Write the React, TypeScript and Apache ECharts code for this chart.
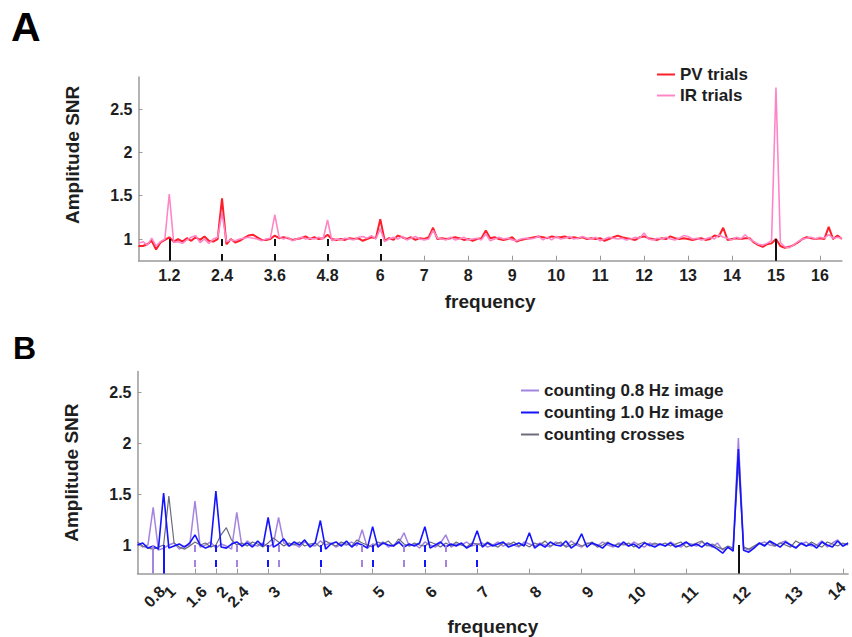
import React, { useEffect, useRef } from "react";
import * as echarts from "echarts";

const FONT = "'Liberation Sans', Arial, Helvetica, sans-serif";

// ---------- Panel A data (frequency grid 0.5 .. 16.5 Hz, step 0.1) ----------
const freqStartA = 0.5;
const freqStepA = 0.1;
const pvTrials = [
  0.92, 0.92, 0.94, 0.98, 0.88, 0.96, 0.99, 1.02, 0.97, 1.0,
  0.97, 1.01, 0.98, 1.02, 0.99, 1.03, 0.98, 0.97, 1.0, 1.47,
  0.94, 1.0, 0.96, 0.98, 1.01, 1.04, 1.05, 1.02, 0.99, 0.99,
  1.0, 1.04, 1.01, 1.02, 1.01, 0.99, 1.0, 1.01, 1.03, 1.0,
  1.02, 1.0, 1.01, 1.05, 1.0, 0.99, 1.0, 0.99, 1.01, 1.0,
  1.01, 0.98, 1.0, 1.02, 1.01, 1.23, 0.98, 1.01, 0.99, 1.04,
  1.02, 1.0, 1.02, 0.99, 1.01, 1.0, 1.02, 1.13, 1.0, 1.01,
  1.0, 1.01, 1.02, 1.01, 0.99, 1.0, 0.98, 1.0, 1.01, 1.1,
  1.01, 1.02, 1.0, 0.99, 1.0, 1.02, 0.97, 0.99, 1.0, 1.01,
  1.02, 1.03, 1.02, 1.01, 1.03, 1.02, 1.02, 1.03, 1.01, 1.02,
  1.01, 1.02, 1.0, 1.01, 1.0, 1.01, 0.98, 1.0, 1.02, 1.04,
  1.02, 1.01, 1.0, 0.99, 1.02, 1.03, 1.01, 1.0, 0.99, 1.01,
  1.0, 1.03, 1.01, 1.0, 1.01, 1.0, 0.99, 1.0, 1.01, 0.99,
  1.0, 1.04, 1.03, 1.13, 0.99, 1.0, 1.01, 1.0, 1.01, 1.01,
  0.96, 0.93, 0.91, 0.94, 0.95, 1.0, 0.92, 0.9, 0.91, 0.93,
  0.96, 1.0, 1.02, 1.01, 1.0, 1.01, 1.0, 1.14, 1.0, 1.04, 1.0,
];
const irTrials = [
  0.95, 0.97, 0.93, 1.01, 0.92, 0.97, 1.0, 1.52, 0.96, 0.97,
  0.95, 0.99, 1.02, 1.04, 0.96, 1.0, 0.95, 1.0, 1.02, 1.3,
  0.97, 0.99, 0.98, 1.0, 1.01, 1.02, 1.01, 1.0, 0.98, 1.0,
  1.01, 1.28, 1.02, 1.0, 1.02, 0.98, 1.0, 1.02, 1.0, 1.01,
  1.0, 1.02, 1.0, 1.22, 0.98, 1.0, 0.99, 1.01, 1.0, 0.99,
  1.02, 1.03, 1.01, 1.04, 1.0, 1.12, 0.97, 1.0, 1.02, 1.0,
  1.03, 0.99, 1.01, 1.03, 1.0, 0.99, 1.0, 1.1, 1.01, 1.0,
  0.99, 1.02, 0.99, 1.0, 1.02, 0.99, 1.0, 1.01, 0.99, 1.06,
  0.98, 1.0, 1.02, 1.0, 1.01, 0.99, 0.98, 1.0, 1.01, 1.0,
  1.01, 1.03, 0.99, 1.02, 0.99, 1.03, 1.0, 1.01, 1.03, 1.0,
  1.01, 1.03, 1.01, 1.0, 1.02, 0.98, 1.0, 1.02, 1.01, 1.0,
  1.01, 0.99, 1.0, 1.02, 1.01, 1.07, 1.0, 0.99, 1.01, 1.0,
  1.02, 1.0, 0.99, 1.01, 1.04, 1.03, 1.0, 1.01, 0.99, 1.0,
  1.02, 1.0, 1.05, 1.02, 1.01, 0.99, 1.02, 1.0, 1.05, 1.0,
  0.97, 0.94, 0.93, 0.95, 0.98, 2.75, 0.96, 0.91, 0.9, 0.93,
  0.97, 1.0, 1.01, 1.02, 1.0, 1.02, 1.01, 1.05, 1.01, 1.02, 1.01,
];
const xLabelsA = [1.2, 2.4, 3.6, 4.8, 6, 7, 8, 9, 10, 11, 12, 13, 14, 15, 16];
const yLabelsA = [1, 1.5, 2, 2.5];
const markersSolidA = [1.2, 15];
const markersDashedA = [2.4, 3.6, 4.8, 6];

// ---------- Panel B data (frequency grid 0.5 .. 14.1 Hz, step 0.1) ----------
const freqStartB = 0.5;
const freqStepB = 0.1;
const counting08 = [
  1.02, 0.98, 1.0, 1.37, 0.95, 0.97, 1.0, 1.02, 0.96, 0.99,
  1.0, 1.43, 0.98, 1.0, 1.03, 0.97, 1.01, 0.99, 0.96, 1.32,
  0.98, 1.04, 1.0, 0.99, 1.02, 0.98, 1.01, 1.27, 1.02, 0.99,
  1.01, 0.98, 1.03, 1.0, 0.99, 1.04, 1.0, 1.02, 0.98, 1.01,
  1.0, 1.03, 0.99, 1.15, 0.97, 1.01, 1.0, 1.03, 0.98, 1.0,
  1.02, 1.12, 0.99, 1.01, 0.97, 1.03, 1.0, 0.98, 1.02, 1.1,
  0.98, 1.01, 1.0, 1.03, 0.99, 1.01, 1.02, 0.98, 1.0, 1.03,
  0.99, 1.02, 1.0, 0.98, 1.03, 1.01, 0.99, 1.02, 1.0, 0.98,
  1.03, 1.01, 0.99, 1.04, 1.0, 0.98, 1.02, 1.01, 0.99, 1.03,
  1.0, 0.98, 1.02, 1.01, 0.99, 1.03, 1.0, 0.98, 1.02, 1.0,
  1.01, 0.99, 1.03, 1.0, 0.98, 1.02, 1.01, 0.99, 1.03, 1.0,
  0.98, 1.02, 0.95, 0.97, 0.96, 2.05, 0.97, 0.95, 0.98, 1.01,
  1.03, 1.0, 0.99, 1.02, 1.04, 1.0, 0.98, 1.01, 1.03, 0.99,
  1.0, 1.04, 0.98, 1.02, 1.05, 0.99, 1.01,
];
const counting10 = [
  1.0, 1.02, 0.97, 0.99, 0.96, 1.51, 0.97, 0.99, 1.01, 0.98,
  1.02, 1.1, 1.0, 0.97, 0.99, 1.53, 0.98, 0.97, 1.01, 1.03,
  0.99, 1.02, 0.98, 1.04, 0.99, 1.27, 0.98, 1.01, 1.06, 0.99,
  1.03, 1.0, 1.05, 0.98, 1.02, 1.24, 0.96, 1.01, 1.03, 0.99,
  1.04, 0.98, 1.02, 1.0, 0.97, 1.18, 0.98, 1.02, 1.0, 0.99,
  1.03, 0.98, 1.01, 0.99, 1.02, 1.18, 0.97, 1.0, 1.03, 0.98,
  1.01, 0.99, 1.02, 0.97, 1.0, 1.14, 0.98, 1.02, 0.99, 1.01,
  1.03, 0.98, 1.0, 1.02, 0.99, 1.12, 0.97, 1.01, 0.98, 1.03,
  1.0, 0.99, 1.04, 0.97, 1.01, 1.11, 0.98, 1.02, 1.0, 0.97,
  1.02, 1.0, 0.98, 1.03, 0.99, 1.01, 0.97, 1.02, 1.0, 0.98,
  1.01, 0.99, 1.02, 0.98, 1.0, 1.03, 0.99, 1.01, 0.98, 1.02,
  0.99, 0.96, 0.92, 0.98, 0.94, 1.94, 0.95, 0.93, 0.97, 1.02,
  0.99, 1.04, 1.01, 0.98, 1.03, 1.0, 0.97, 1.02, 0.99, 1.01,
  0.97, 1.03, 1.0, 0.98, 1.04, 0.99, 1.02,
];
const countingCrosses = [
  1.03, 0.99, 0.97, 0.96, 0.98, 1.0, 1.48, 1.02, 0.98, 0.96,
  0.99, 1.03, 1.0, 1.02, 0.98, 1.0, 1.1, 1.17, 1.05, 1.0,
  1.02, 0.99, 1.03, 1.01, 0.98, 1.02, 1.07, 1.03, 0.99, 1.02,
  1.0, 1.03, 0.99, 1.01, 1.02, 0.98, 1.04, 1.01, 0.99, 1.03,
  1.01, 0.99, 1.05, 1.02, 1.0, 0.98, 1.03, 1.01, 1.04, 0.99,
  1.06, 1.01, 0.99, 1.02, 1.0, 0.99, 1.03, 1.01, 0.98, 1.02,
  0.99, 1.03, 1.0, 0.98, 1.02, 1.01, 0.99, 1.03, 1.0, 0.98,
  1.02, 1.0, 1.03, 0.99, 1.01, 0.98, 1.02, 1.0, 1.04, 0.99,
  1.01, 1.03, 0.98, 1.0, 1.02, 0.99, 1.01, 1.03, 0.98, 1.0,
  1.03, 0.99, 1.01, 1.0, 1.02, 0.98, 1.01, 1.03, 0.99, 1.02,
  1.0, 1.02, 0.99, 1.01, 1.03, 0.98, 1.0, 1.02, 1.04, 0.99,
  1.01, 0.98, 0.96, 0.99, 0.97, 1.8, 0.98, 0.96, 0.99, 1.02,
  1.0, 1.03, 0.99, 1.02, 1.0, 0.98, 1.04, 1.01, 0.99, 1.03,
  1.0, 0.98, 1.03, 1.01, 0.99, 1.02, 1.0,
];
// tick labels of panel B ("1" and "14" sit on overlay axes so they are neither culled nor clipped)
const xLabelsB = [0.8, 1.6, 2, 2.4, 3, 4, 5, 6, 7, 8, 9, 10, 11, 12, 13];
const xLabelsBOverlay = [1];
const xLabelsBEnd = [14];
const xTicksB = [0.8, 1, 1.6, 2, 2.4, 3, 4, 5, 6, 7, 8, 9, 10, 11, 12, 13, 14];
const yLabelsB = [1, 1.5, 2, 2.5];
const markersPurpleSolidB = [0.8];
const markersBlueSolidB = [1];
const markersPurpleDashedB = [1.6, 2.4, 3.2, 4.8, 5.6, 6.4];
const markersBlueDashedB = [2, 3, 4, 5, 6, 7];
const markersBlackSolidB = [12];

// ---------- styling ----------
const C_RED = "#ff1f2a";
const C_PINK = "#ff86c6";
const C_PURPLE = "#a584e0";
const C_BLUE = "#1414ff";
const C_GREY = "#6c6c7c";
const C_AXIS = "#9a9a9a";
const C_TEXT = "#1e1e1e";

const Y_MIN_A = 0.75;
const Y_MAX_A = 2.87;
const Y_MIN_B = 0.72;
const Y_MAX_B = 2.7;
const X_MIN_B = 0.5;
const X_MAX_B = 14.1;

function toPairs(start: number, step: number, vals: number[]) {
  return vals.map((v, i) => [Math.round((start + i * step) * 100) / 100, v]);
}

function markerSegs(freqs: number[], yTop: number, yBottom: number, color: string, dashed: boolean) {
  return freqs.map((f) => [
    {
      coord: [f, yTop],
      lineStyle: { color, width: 2, type: dashed ? [7, 8] : "solid", opacity: 1 },
    },
    { coord: [f, yBottom] },
  ]);
}

const tickLabelStyle = {
  fontFamily: FONT,
  fontWeight: "bold" as const,
  fontSize: 16,
  color: C_TEXT,
};

const nameStyle = {
  fontFamily: FONT,
  fontWeight: "bold" as const,
  fontSize: 19,
  color: C_TEXT,
};

const legendText = { fontFamily: FONT, fontWeight: "bold" as const, fontSize: 17, color: C_TEXT };

const rotatedLabelB = {
  ...tickLabelStyle,
  margin: 6,
  rotate: 45,
  verticalAlign: "top",
  lineHeight: 26,
  showMinLabel: true,
  showMaxLabel: true,
  hideOverlap: false,
  formatter: (v: number) => String(v),
};

export default function App() {
  const ref = useRef<HTMLDivElement>(null);

  useEffect(() => {
    if (!ref.current) return;
    const chart = echarts.init(ref.current, undefined, { renderer: "svg" });

    const axisLine = { show: true, lineStyle: { color: C_AXIS, width: 1.5 } };

    const overlayAxisB = (labels: number[], labelExtra: any) => ({
      type: "value",
      gridIndex: 1,
      position: "bottom",
      offset: 0,
      min: X_MIN_B,
      max: X_MAX_B,
      axisLine: { show: false },
      axisTick: { show: false },
      axisLabel: { ...rotatedLabelB, ...labelExtra, customValues: labels },
      splitLine: { show: false },
    });

    const option: any = {
      animation: false,
      backgroundColor: "#ffffff",
      textStyle: { fontFamily: FONT },
      grid: [
        { left: 138.5, top: 77, width: 703.4, height: 183.7, containLabel: false, outerBoundsMode: "none" },
        { left: 137.5, top: 371.6, width: 710.6, height: 202, containLabel: false, outerBoundsMode: "none" },
      ],
      legend: [
        {
          data: ["PV trials", "IR trials"],
          orient: "vertical",
          left: 657,
          top: 66,
          padding: 0,
          icon: "rect",
          itemWidth: 18,
          itemHeight: 2,
          itemGap: 4,
          textStyle: legendText,
          selectedMode: false,
        },
        {
          data: ["counting 0.8 Hz image", "counting 1.0 Hz image", "counting crosses"],
          orient: "vertical",
          left: 521,
          top: 382,
          padding: 0,
          icon: "rect",
          itemWidth: 18,
          itemHeight: 2,
          itemGap: 5,
          textStyle: legendText,
          selectedMode: false,
        },
      ],
      xAxis: [
        {
          type: "value",
          gridIndex: 0,
          min: 0.5,
          max: 16.5,
          name: "frequency",
          nameLocation: "middle",
          nameGap: 31,
          nameTextStyle: nameStyle,
          axisLine,
          axisTick: { show: true, inside: true, length: 5, customValues: xLabelsA, lineStyle: { color: C_AXIS, width: 1 } },
          axisLabel: { ...tickLabelStyle, margin: 7, customValues: xLabelsA, showMinLabel: true, showMaxLabel: true, formatter: (v: number) => String(v) },
          splitLine: { show: false },
        },
        {
          type: "value",
          gridIndex: 1,
          min: X_MIN_B,
          max: X_MAX_B,
          name: "frequency",
          nameLocation: "middle",
          nameGap: 43,
          nameTextStyle: nameStyle,
          axisLine,
          axisTick: { show: true, inside: true, length: 5, customValues: xTicksB, lineStyle: { color: C_AXIS, width: 1 } },
          axisLabel: { ...rotatedLabelB, customValues: xLabelsB },
          splitLine: { show: false },
        },
        overlayAxisB(xLabelsBOverlay, {}),
        overlayAxisB(xLabelsBEnd, { verticalAlign: "middle", lineHeight: 18, margin: 11 }),
      ],
      yAxis: [
        {
          type: "value",
          gridIndex: 0,
          min: Y_MIN_A,
          max: Y_MAX_A,
          name: "Amplitude SNR",
          nameLocation: "middle",
          nameGap: 57,
          nameTextStyle: { ...nameStyle, padding: [0, 0, 0, 28] },
          axisLine,
          axisTick: { show: true, inside: true, length: 4, customValues: yLabelsA, lineStyle: { color: C_AXIS, width: 1 } },
          axisLabel: { ...tickLabelStyle, margin: 6, customValues: yLabelsA, formatter: (v: number) => String(v) },
          splitLine: { show: false },
        },
        {
          type: "value",
          gridIndex: 1,
          min: Y_MIN_B,
          max: Y_MAX_B,
          name: "Amplitude SNR",
          nameLocation: "middle",
          nameGap: 57,
          nameTextStyle: nameStyle,
          axisLine,
          axisTick: { show: true, inside: true, length: 4, customValues: yLabelsB, lineStyle: { color: C_AXIS, width: 1 } },
          axisLabel: { ...tickLabelStyle, margin: 6, customValues: yLabelsB, formatter: (v: number) => String(v) },
          splitLine: { show: false },
        },
      ],
      series: [
        {
          name: "PV trials",
          type: "line",
          xAxisIndex: 0,
          yAxisIndex: 0,
          data: toPairs(freqStartA, freqStepA, pvTrials),
          symbol: "none",
          lineStyle: { color: C_RED, width: 2 },
          itemStyle: { color: C_RED },
          z: 2,
        },
        {
          name: "IR trials",
          type: "line",
          xAxisIndex: 0,
          yAxisIndex: 0,
          data: toPairs(freqStartA, freqStepA, irTrials),
          symbol: "none",
          lineStyle: { color: C_PINK, width: 1.6 },
          itemStyle: { color: C_PINK },
          z: 3,
        },
        {
          name: "markersA",
          type: "line",
          xAxisIndex: 0,
          yAxisIndex: 0,
          data: [],
          z: 5,
          markLine: {
            silent: true,
            symbol: ["none", "none"],
            label: { show: false },
            animation: false,
            data: [
              ...markerSegs(markersSolidA, 1, Y_MIN_A, "#111111", false),
              ...markerSegs(markersDashedA, 1, Y_MIN_A, "#111111", true),
            ],
          },
        },
        {
          name: "counting 0.8 Hz image",
          type: "line",
          xAxisIndex: 1,
          yAxisIndex: 1,
          data: toPairs(freqStartB, freqStepB, counting08),
          symbol: "none",
          lineStyle: { color: C_PURPLE, width: 1.5 },
          itemStyle: { color: C_PURPLE },
          z: 2,
        },
        {
          name: "counting 1.0 Hz image",
          type: "line",
          xAxisIndex: 1,
          yAxisIndex: 1,
          data: toPairs(freqStartB, freqStepB, counting10),
          symbol: "none",
          lineStyle: { color: C_BLUE, width: 1.6 },
          itemStyle: { color: C_BLUE },
          z: 3,
        },
        {
          name: "counting crosses",
          type: "line",
          xAxisIndex: 1,
          yAxisIndex: 1,
          data: toPairs(freqStartB, freqStepB, countingCrosses),
          symbol: "none",
          lineStyle: { color: C_GREY, width: 1.2 },
          itemStyle: { color: C_GREY },
          z: 2,
        },
        {
          name: "markersB",
          type: "line",
          xAxisIndex: 1,
          yAxisIndex: 1,
          data: [],
          z: 5,
          markLine: {
            silent: true,
            symbol: ["none", "none"],
            label: { show: false },
            animation: false,
            data: [
              ...markerSegs(markersPurpleSolidB, 1, Y_MIN_B, C_PURPLE, false),
              ...markerSegs(markersBlueSolidB, 1, Y_MIN_B, C_BLUE, false),
              ...markerSegs(markersPurpleDashedB, 1, Y_MIN_B, C_PURPLE, true),
              ...markerSegs(markersBlueDashedB, 1, Y_MIN_B, C_BLUE, true),
              ...markerSegs(markersBlackSolidB, 1, Y_MIN_B, "#111111", false),
            ],
          },
        },
      ],
      graphic: [
        {
          type: "text",
          left: 11,
          top: 6,
          style: { text: "A", fontFamily: FONT, fontWeight: "bold", fontSize: 41, fill: "#000" },
        },
        {
          type: "text",
          left: 13,
          top: 332,
          style: { text: "B", fontFamily: FONT, fontWeight: "bold", fontSize: 32, fill: "#000" },
        },
      ],
    };

    chart.setOption(option);
    return () => {
      chart.dispose();
    };
  }, []);

  return (
    <div
      ref={ref}
      style={{ position: "absolute", left: 0, top: 0, width: 852, height: 637, background: "#fff" }}
    />
  );
}
